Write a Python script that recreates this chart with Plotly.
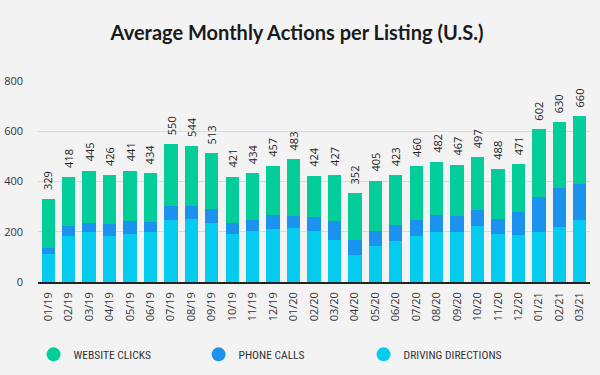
import plotly.graph_objects as go

months = ["01/19", "02/19", "03/19", "04/19", "05/19", "06/19", "07/19", "08/19", "09/19",
          "10/19", "11/19", "12/19", "01/20", "02/20", "03/20", "04/20", "05/20", "06/20",
          "07/20", "08/20", "09/20", "10/20", "11/20", "12/20", "01/21", "02/21", "03/21"]

driving_directions = [110, 182, 198, 182, 192, 198, 246, 252, 236, 191, 203, 210, 214, 204, 167,
                      106, 145, 165, 182, 199, 198, 224, 191, 186, 198, 220, 245]
phone_calls = [25, 39, 38, 49, 51, 41, 55, 49, 53, 42, 44, 56, 48, 53, 76, 61, 58, 62, 65, 66,
               64, 61, 58, 91, 140, 156, 147]
website_clicks = [194, 198, 207, 195, 200, 195, 249, 242, 224, 186, 185, 195, 226, 166, 183,
                  187, 200, 199, 214, 214, 204, 212, 200, 191, 270, 259, 268]
total_labels = ["329", "418", "445", "426", "441", "434", "550", "544", "513", "421", "434",
                "457", "483", "424", "427", "352", "405", "423", "460", "482", "467", "497",
                "488", "471", "602", "630", "660"]

C_WEB = "#03CD98"
C_PHONE = "#1B93EE"
C_DRIVE = "#05CBEE"
BG = "#F3F3F3"

fig = go.Figure()
fig.add_trace(go.Bar(x=months, y=driving_directions, name="DRIVING DIRECTIONS", showlegend=False,
                     marker=dict(color=C_DRIVE, line=dict(width=0))))
fig.add_trace(go.Bar(x=months, y=phone_calls, name="PHONE CALLS", showlegend=False,
                     marker=dict(color=C_PHONE, line=dict(width=0))))
fig.add_trace(go.Bar(x=months, y=website_clicks, name="WEBSITE CLICKS", showlegend=False,
                     marker=dict(color=C_WEB, line=dict(width=0))))

# legend proxies (circle markers) in displayed order
for name, col in [("WEBSITE CLICKS", C_WEB), ("PHONE CALLS", C_PHONE), ("DRIVING DIRECTIONS", C_DRIVE)]:
    fig.add_trace(go.Scatter(x=[None], y=[None], mode="markers", name=name,
                             marker=dict(color=col, size=14, symbol="circle"), showlegend=True))

tops = [d + p + w for d, p, w in zip(driving_directions, phone_calls, website_clicks)]
for m, t, lab in zip(months, tops, total_labels):
    fig.add_annotation(x=m, y=t, text=lab, textangle=-90, showarrow=False,
                       xanchor="center", yanchor="bottom", yshift=7,
                       font=dict(family="Open Sans", size=11, color="#222222"))

fig.update_layout(
    barmode="stack",
    bargap=0.35,
    width=600, height=375,
    paper_bgcolor=BG, plot_bgcolor=BG,
    margin=dict(l=38, r=10, t=81, b=93, autoexpand=False),
    title=dict(text="<b>Average Monthly Actions per Listing (U.S.)</b>", x=0.495, xanchor="center",
               y=0.912, yanchor="middle", automargin=False,
               font=dict(family="Lato", size=20, color="#1a1a1a")),
    font=dict(family="Open Sans", size=11, color="#333333"),
    legend=dict(orientation="h", x=-0.008, xanchor="left", y=-0.36, yanchor="middle",
                font=dict(family="Liberation Sans Narrow, Roboto Condensed, Roboto", size=11.5,
                          color="#333333"),
                traceorder="normal", itemwidth=30, entrywidth=120, bgcolor="rgba(0,0,0,0)"),
    showlegend=True,
)
fig.update_xaxes(type="category", tickangle=-90, showgrid=False, showline=True,
                 linecolor="#222222", linewidth=1.5, ticks="", ticklabelstandoff=4,
                 automargin=False,
                 tickfont=dict(family="Open Sans", size=11, color="#333333"))
fig.update_yaxes(range=[0, 800], tickvals=[0, 200, 400, 600, 800], showgrid=True,
                 gridcolor="#DADADA", gridwidth=1, zeroline=False, showline=False,
                 ticklabelstandoff=14, automargin=False,
                 tickfont=dict(family="Open Sans", size=11, color="#333333"))

fig.write_html("out.html", config={"displayModeBar": False},
               post_script="document.body.style.margin='0';document.body.style.background='#F3F3F3';")
